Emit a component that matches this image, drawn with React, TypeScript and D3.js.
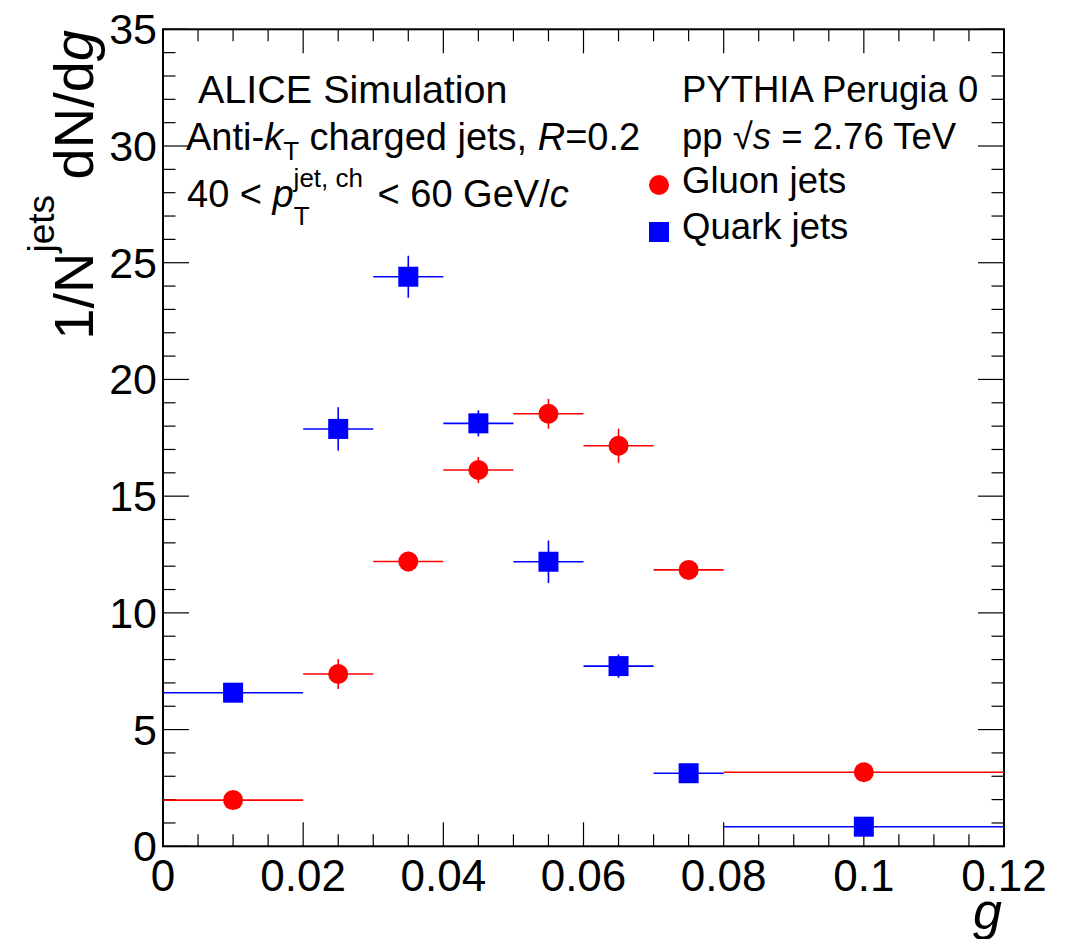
import React from "react";
import * as d3 from "d3";

const binLow = [0, 0.02, 0.03, 0.04, 0.05, 0.06, 0.07, 0.08];
const binHigh = [0.02, 0.03, 0.04, 0.05, 0.06, 0.07, 0.08, 0.12];
const gluonValues = [1.98, 7.38, 12.2, 16.12, 18.53, 17.16, 11.84, 3.17];
const gluonErrors = [0.15, 0.64, 0.42, 0.56, 0.64, 0.73, 0.35, 0.1];
const quarkValues = [6.58, 17.88, 24.4, 18.12, 12.19, 7.72, 3.13, 0.84];
const quarkErrors = [0.2, 0.93, 0.9, 0.56, 0.91, 0.5, 0.25, 0.08];
const xTickValues = [0, 0.02, 0.04, 0.06, 0.08, 0.1, 0.12];
const xTickLabels = ["0", "0.02", "0.04", "0.06", "0.08", "0.1", "0.12"];
const yTickValues = [0, 5, 10, 15, 20, 25, 30, 35];
const yTickLabels = ["0", "5", "10", "15", "20", "25", "30", "35"];

const W = 1077;
const H = 939;
const L = 163, R = 1004, T = 29.3, B = 846.3;
const FONT = "'Liberation Sans', Arial, Helvetica, sans-serif";
const RED = "#ff0000";
const BLUE = "#0000ff";

export default function App() {
  const x = d3.scaleLinear().domain([0, 0.12]).range([L, R]);
  const y = d3.scaleLinear().domain([0, 35]).range([B, T]);

  const xMinor = d3.range(0, 0.12 + 1e-9, 0.005);
  const yMinor = d3.range(0, 35 + 1e-9, 1);

  const series = [
    { vals: gluonValues, errs: gluonErrors, color: RED, shape: "circle" },
    { vals: quarkValues, errs: quarkErrors, color: BLUE, shape: "square" },
  ];

  return (
    <svg width={W} height={H} style={{ position: "absolute", left: 0, top: 0, background: "#fff" }} fontFamily={FONT}>
      <rect x={0} y={0} width={W} height={H} fill="#fff" />
      {/* ticks */}
      <g stroke="#000" strokeWidth={1.2}>
        {xMinor.map((v, i) => {
          const major = i % 4 === 0;
          const len = major ? 24 : 12;
          return (
            <g key={"xt" + i}>
              <line x1={x(v)} x2={x(v)} y1={B} y2={B - len} />
              <line x1={x(v)} x2={x(v)} y1={T} y2={T + len} />
            </g>
          );
        })}
        {yMinor.map((v, i) => {
          const major = i % 5 === 0;
          const len = major ? 26 : 12.5;
          return (
            <g key={"yt" + i}>
              <line x1={L} x2={L + len} y1={y(v)} y2={y(v)} />
              <line x1={R} x2={R - len} y1={y(v)} y2={y(v)} />
            </g>
          );
        })}
      </g>
      <rect x={L} y={T} width={R - L} height={B - T} fill="none" stroke="#000" strokeWidth={2} />

      {/* tick labels */}
      {xTickValues.map((v, i) => (
        <text key={"xl" + i} x={x(v)} y={891} fontSize={44} textAnchor="middle" fill="#000">
          {xTickLabels[i]}
        </text>
      ))}
      {yTickValues.map((v, i) => (
        <text key={"yl" + i} x={157} y={y(v) + 15} fontSize={43} textAnchor="end" fill="#000">
          {yTickLabels[i]}
        </text>
      ))}

      {/* axis titles */}
      <text x={1002} y={929} fontSize={52} textAnchor="end" fontStyle="italic" fill="#000">g</text>
      <text transform="translate(93,30) rotate(-90)" fontSize={56} textAnchor="end" fill="#000">
        <tspan>1/N</tspan>
        <tspan fontSize={37} dy={-39}>jets</tspan>
        <tspan dy={39}> dN/d</tspan>
        <tspan fontStyle="italic">g</tspan>
      </text>

      {/* data */}
      {series.map((s, si) => (
        <g key={"s" + si}>
          {s.vals.map((v, i) => {
            const cx = x((binLow[i] + binHigh[i]) / 2);
            const cy = y(v);
            return (
              <g key={i}>
                <line x1={x(binLow[i])} x2={x(binHigh[i])} y1={cy} y2={cy} stroke={s.color} strokeWidth={1.6} />
                <line x1={cx} x2={cx} y1={y(v - s.errs[i])} y2={y(v + s.errs[i])} stroke={s.color} strokeWidth={1.6} />
                {s.shape === "circle" ? (
                  <circle cx={cx} cy={cy} r={10} fill={s.color} />
                ) : (
                  <rect x={cx - 10} y={cy - 10} width={20} height={20} fill={s.color} />
                )}
              </g>
            );
          })}
        </g>
      ))}

      {/* annotations */}
      <text x={198} y={103} fontSize={39.5} fill="#000">ALICE Simulation</text>
      <text x={186} y={150} fontSize={38} fill="#000">
        <tspan>Anti-</tspan>
        <tspan fontStyle="italic">k</tspan>
        <tspan fontSize={26} dy={10}>T</tspan>
        <tspan dy={-10}> charged jets, </tspan>
        <tspan fontStyle="italic">R</tspan>
        <tspan>=0.2</tspan>
      </text>
      <text x={187} y={207} fontSize={38} fill="#000">
        <tspan>40 &lt; </tspan>
        <tspan fontStyle="italic">p</tspan>
        <tspan fontSize={26} dy={18}>T</tspan>
        <tspan fontSize={26} dx={-16} dy={-38}>jet, ch</tspan>
        <tspan dx={4} dy={20}> &lt; 60 GeV/</tspan>
        <tspan fontStyle="italic">c</tspan>
      </text>

      <text x={682} y={102} fontSize={36.5} fill="#000">PYTHIA Perugia 0</text>
      <text x={682} y={149} fontSize={36.5} fill="#000">
        <tspan>pp </tspan>
        <tspan>√</tspan>
        <tspan fontStyle="italic">s</tspan>
        <tspan> = 2.76 TeV</tspan>
      </text>
      <circle cx={659} cy={185} r={10} fill={RED} />
      <text x={682} y={193} fontSize={36.5} fill="#000">Gluon jets</text>
      <rect x={649} y={222} width={20} height={20} fill={BLUE} />
      <text x={682} y={239} fontSize={36.5} fill="#000">Quark jets</text>
    </svg>
  );
}
